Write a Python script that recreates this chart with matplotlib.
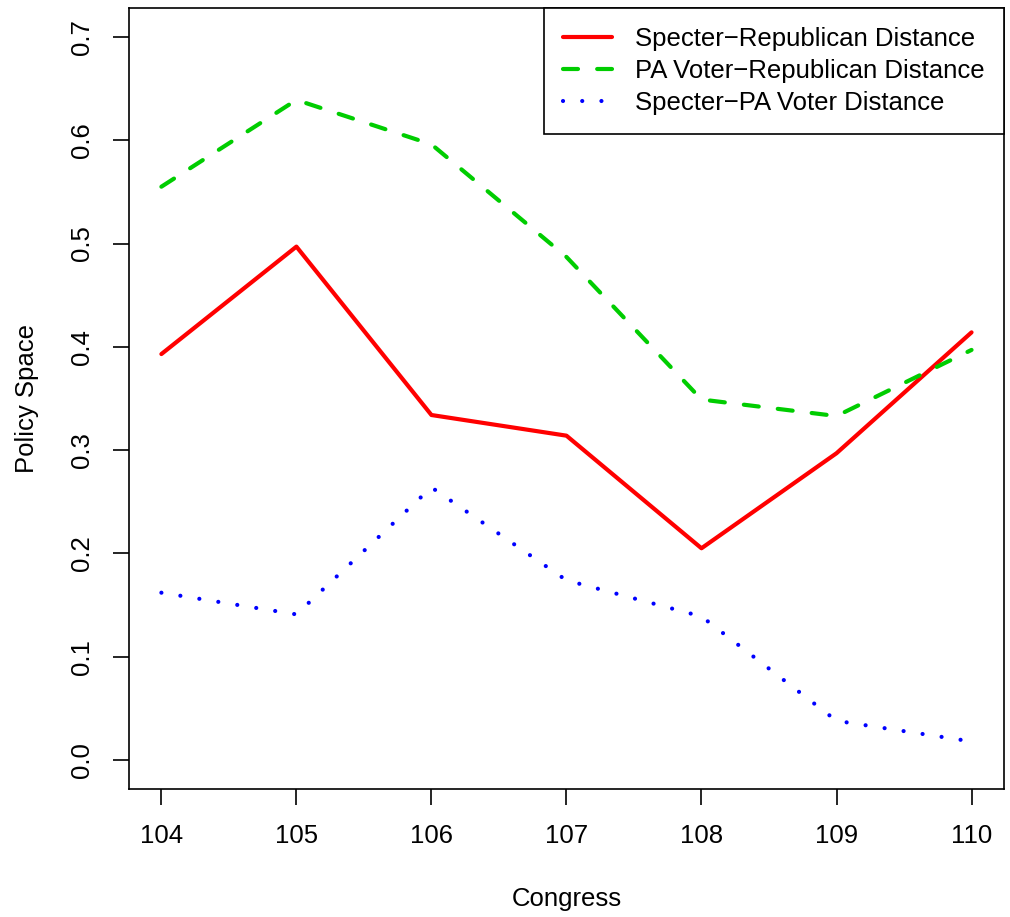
import matplotlib
matplotlib.use('Agg')
import matplotlib.pyplot as plt

plt.rcParams['font.family'] = ['Liberation Sans', 'DejaVu Sans']

congress = [104, 105, 106, 107, 108, 109, 110]
specter_rep = [0.393, 0.497, 0.334, 0.314, 0.205, 0.297, 0.414]
voter_rep = [0.555, 0.639, 0.596, 0.487, 0.349, 0.333, 0.397]
specter_voter = [0.162, 0.141, 0.264, 0.174, 0.139, 0.038, 0.018]

labels = ['Specter\u2212Republican Distance',
          'PA Voter\u2212Republican Distance',
          'Specter\u2212PA Voter Distance']

fs = 18.5

fig = plt.figure(figsize=(10.1, 9.17), dpi=100)
ax = fig.add_axes([0.1277, 0.1396, 0.8663, 0.8517])

ax.plot(congress, specter_rep, color='#ff0000', lw=3, solid_capstyle='round',
        label=labels[0])
ax.plot(congress, voter_rep, color='#00cd00', lw=3, linestyle=(0, (3.6, 4.6)),
        dash_capstyle='round', label=labels[1])
ax.plot(congress, specter_voter, color='#0000ff', lw=3, linestyle=(0, (0.01, 4.6)),
        dash_capstyle='round', label=labels[2])

ax.set_xlim(103.76, 110.24)
ax.set_ylim(-0.028, 0.728)
ax.set_xticks(congress)
ax.set_yticks([0.0, 0.1, 0.2, 0.3, 0.4, 0.5, 0.6, 0.7])
ax.set_yticklabels(['0.0', '0.1', '0.2', '0.3', '0.4', '0.5', '0.6', '0.7'],
                   rotation=90, va='center')
ax.tick_params(length=11.5, width=1.2, pad=14, labelsize=fs)
for s in ax.spines.values():
    s.set_linewidth(1.2)

ax.set_xlabel('Congress', fontsize=fs, labelpad=28)
ax.set_ylabel('Policy Space', fontsize=fs, labelpad=22)

leg = ax.legend(loc='upper right', borderaxespad=0, fontsize=fs, fancybox=False,
                framealpha=1, edgecolor='black', handlelength=1.9,
                handletextpad=0.9, labelspacing=0.3, borderpad=0.75)
leg.get_frame().set_linewidth(1.2)

fig.savefig('out.png', dpi=100)
